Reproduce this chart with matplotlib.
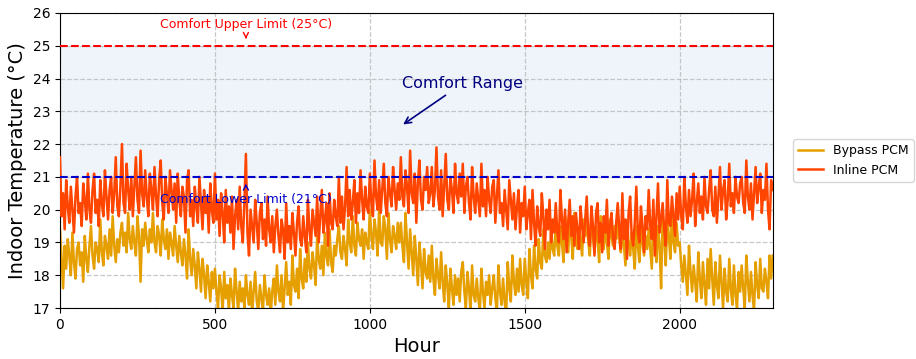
import numpy as np
import matplotlib
matplotlib.use("Agg")
import matplotlib.pyplot as plt

# Indoor temperature sampled every 5 hours (°C); one row = 100 hours
hours = np.arange(0, 2301, 5)

bypass_pcm = [
    19.4, 18.5, 17.6, 18.9, 18.2, 19.1, 18.6, 18.0, 19.3, 18.4, 17.9, 18.8, 19.0, 18.3, 18.7, 17.8, 19.2, 18.5, 18.1, 18.9,
    19.5, 18.6, 18.2, 19.0, 18.8, 18.4, 19.7, 18.7, 18.3, 19.2, 18.9, 18.5, 19.4, 18.6, 19.8, 18.9, 18.4, 19.1, 18.7, 19.3,
    19.6, 18.9, 19.3, 18.7, 19.9, 19.1, 18.8, 19.5, 19.0, 18.6, 19.8, 19.2, 17.8, 19.4, 18.9, 19.6, 19.1, 18.7, 19.4, 19.0,
    19.9, 19.0, 18.7, 19.5, 19.2, 18.6, 19.7, 19.1, 18.8, 19.4, 18.5, 19.3, 19.0, 18.6, 19.5, 18.9, 18.4, 19.2, 18.7, 18.3,
    19.1, 18.6, 17.9, 19.4, 18.5, 18.0, 18.8, 18.3, 17.6, 18.7, 18.2, 17.5, 18.5, 18.0, 17.3, 18.3, 17.8, 17.2, 18.1, 17.6,
    18.2, 17.5, 17.0, 18.0, 17.6, 16.9, 18.1, 17.3, 17.7, 16.9, 17.9, 17.4, 17.0, 18.2, 17.5, 16.9, 17.8, 17.2, 17.6, 17.0,
    18.0, 17.4, 17.1, 17.8, 16.8, 17.5, 18.1, 17.2, 16.9, 17.7, 17.3, 16.9, 18.0, 17.4, 17.1, 17.6, 16.8, 17.5, 17.9, 17.1,
    18.3, 17.5, 17.2, 18.0, 16.9, 17.6, 18.4, 17.4, 17.8, 17.1, 18.6, 17.7, 17.5, 18.2, 17.3, 18.8, 17.9, 17.6, 18.5, 17.8,
    19.0, 18.2, 17.9, 18.7, 18.3, 17.7, 19.2, 18.5, 18.2, 18.9, 18.0, 19.3, 18.6, 18.3, 19.4, 18.4, 18.1, 18.9, 18.6, 19.1,
    19.5, 18.7, 18.5, 19.2, 18.8, 18.3, 19.7, 19.0, 18.7, 19.8, 18.9, 18.6, 19.6, 19.1, 18.9, 19.4, 18.5, 19.3, 19.0, 18.8,
    20.0, 19.2, 18.8, 19.7, 19.3, 18.6, 20.1, 19.0, 18.9, 19.8, 19.4, 18.5, 19.9, 19.1, 18.7, 19.5, 19.2, 18.8, 19.6, 19.0,
    19.6, 18.9, 18.4, 19.9, 19.0, 18.2, 19.4, 18.7, 18.0, 19.2, 18.5, 17.7, 19.0, 18.4, 17.6, 18.8, 18.1, 17.9, 18.6, 17.8,
    18.9, 17.9, 17.4, 18.5, 18.0, 17.6, 18.7, 17.8, 17.2, 18.3, 17.7, 17.0, 18.2, 17.6, 17.1, 18.0, 17.4, 17.9, 17.2, 18.1,
    18.4, 17.5, 17.0, 18.1, 17.6, 16.9, 18.3, 17.4, 17.2, 17.9, 17.3, 16.9, 18.2, 17.5, 17.0, 17.8, 17.4, 18.0, 17.1, 17.6,
    18.0, 17.3, 16.9, 18.3, 17.5, 17.1, 17.9, 17.2, 16.8, 18.4, 17.6, 17.2, 18.6, 17.8, 17.4, 18.2, 17.5, 18.5, 17.7, 17.4,
    18.5, 17.8, 17.3, 18.8, 18.0, 17.6, 18.9, 18.2, 17.9, 19.1, 18.4, 18.2, 19.4, 18.6, 18.4, 19.0, 18.5, 19.3, 18.8, 18.6,
    19.6, 18.9, 18.6, 19.5, 19.0, 18.4, 19.8, 19.1, 18.7, 19.6, 19.2, 18.5, 19.9, 19.0, 18.8, 19.4, 19.1, 18.6, 19.7, 19.2,
    19.7, 19.0, 18.6, 19.9, 19.2, 18.7, 19.5, 19.1, 18.4, 19.8, 19.3, 18.8, 19.6, 19.0, 18.5, 19.7, 19.2, 18.9, 19.5, 19.1,
    19.8, 19.1, 18.7, 19.5, 18.9, 18.3, 19.6, 19.0, 18.6, 19.3, 18.8, 18.2, 19.5, 18.9, 18.4, 19.4, 19.0, 18.6, 19.2, 18.8,
    19.4, 18.8, 18.2, 19.7, 19.0, 18.4, 19.5, 18.9, 17.6, 19.8, 19.1, 18.3, 19.7, 19.2, 18.5, 19.9, 19.0, 18.7, 19.6, 18.9,
    19.0, 18.3, 17.8, 18.6, 18.0, 17.4, 18.9, 18.1, 17.5, 18.3, 17.8, 17.2, 18.7, 17.9, 17.3, 18.4, 17.7, 17.1, 18.5, 17.6,
    18.8, 17.9, 17.1, 18.4, 17.7, 17.3, 18.6, 17.8, 17.0, 18.2, 17.5, 17.2, 18.5, 17.6, 17.1, 18.3, 17.4, 17.0, 18.1, 17.5,
    18.3, 17.6, 17.0, 18.6, 17.8, 17.2, 18.1, 17.4, 16.9, 18.4, 17.7, 17.3, 18.5, 17.6, 17.5, 18.2, 17.8, 17.3, 18.6, 17.9,
    18.6,
]

inline_pcm = [
    21.6, 19.8, 20.5, 19.4, 20.9, 20.1, 19.6, 20.7, 20.0, 19.3, 20.4, 21.0, 19.9, 20.2, 19.5, 20.8, 20.3, 19.7, 21.1, 20.0,
    19.6, 20.6, 21.1, 19.9, 20.3, 19.5, 20.9, 20.2, 19.8, 21.2, 20.4, 19.7, 20.6, 21.0, 19.9, 20.5, 21.6, 20.1, 19.8, 20.7,
    22.0, 20.2, 19.9, 21.4, 20.6, 20.0, 21.0, 19.8, 20.7, 21.6, 20.3, 19.9, 21.8, 20.5, 20.1, 21.2, 20.4, 19.8, 21.1, 20.6,
    20.0, 21.3, 20.4, 19.8, 20.9, 21.5, 20.2, 19.7, 21.0, 20.5, 19.9, 21.2, 20.6, 20.0, 20.8, 19.6, 21.1, 20.3, 19.8, 20.7,
    20.4, 19.3, 20.9, 21.2, 19.8, 20.3, 19.5, 20.7, 20.1, 19.6, 21.0, 20.2, 19.4, 20.6, 19.9, 20.4, 19.3, 20.8, 20.0, 19.6,
    21.1, 19.7, 20.3, 19.2, 20.5, 19.9, 19.0, 20.6, 19.6, 20.1, 19.3, 20.4, 18.8, 19.8, 20.3, 19.4, 20.7, 19.5, 19.0, 20.2,
    21.7, 19.3, 18.6, 20.0, 19.5, 19.0, 20.3, 19.6, 18.8, 19.9, 20.2, 19.1, 19.7, 18.9, 20.4, 19.4, 19.0, 19.8, 18.7, 19.5,
    20.0, 19.2, 18.7, 19.7, 19.4, 18.5, 20.2, 19.0, 19.5, 18.8, 19.9, 19.3, 18.6, 19.6, 20.1, 19.1, 18.9, 19.8, 19.2, 18.7,
    20.3, 19.4, 18.9, 20.0, 19.6, 19.2, 20.4, 19.0, 19.8, 20.6, 19.3, 19.7, 20.2, 18.9, 20.5, 19.6, 19.4, 20.3, 19.8, 19.5,
    21.0, 19.6, 20.4, 19.4, 20.1, 21.3, 19.8, 20.6, 19.7, 20.2, 20.9, 19.6, 20.5, 19.9, 21.2, 20.3, 19.7, 20.7, 20.1, 19.9,
    21.1, 20.2, 19.8, 21.5, 20.4, 20.0, 20.9, 19.9, 20.6, 21.4, 20.2, 19.8, 21.0, 20.5, 20.1, 21.3, 20.6, 20.0, 20.8, 20.3,
    21.6, 20.4, 20.1, 21.2, 20.7, 19.9, 21.8, 20.5, 20.2, 21.1, 19.6, 20.8, 21.5, 20.3, 20.0, 21.0, 20.6, 21.3, 20.2, 20.5,
    21.3, 20.1, 20.6, 21.9, 20.4, 20.0, 21.2, 19.8, 20.7, 21.7, 20.3, 20.0, 21.0, 20.6, 19.9, 21.4, 20.5, 20.2, 21.1, 20.4,
    21.4, 19.9, 20.7, 21.0, 20.2, 19.7, 21.3, 20.4, 19.9, 20.8, 20.3, 19.8, 21.4, 20.1, 20.6, 19.8, 21.0, 20.3, 19.9, 20.7,
    20.9, 19.6, 20.4, 21.2, 19.9, 20.2, 19.5, 20.6, 20.0, 19.4, 20.9, 20.3, 19.7, 20.5, 19.4, 20.1, 20.6, 19.3, 20.2, 19.8,
    20.7, 19.4, 19.9, 20.3, 19.1, 20.6, 19.6, 18.9, 20.1, 19.5, 19.2, 20.5, 19.8, 18.8, 20.0, 19.4, 20.3, 19.0, 19.7, 19.3,
    20.2, 19.3, 19.0, 20.6, 19.7, 19.1, 20.0, 18.7, 19.6, 20.3, 19.2, 19.8, 18.9, 19.9, 19.4, 18.8, 20.1, 19.5, 19.0, 19.7,
    20.4, 19.2, 18.9, 20.1, 19.5, 18.6, 19.9, 20.2, 19.0, 19.6, 18.7, 19.8, 19.3, 20.3, 18.9, 19.5, 19.9, 19.1, 18.8, 19.6,
    20.2, 19.4, 18.8, 20.5, 19.1, 19.7, 18.5, 19.9, 20.4, 19.2, 18.9, 19.6, 20.7, 19.3, 19.0, 20.1, 19.5, 18.7, 19.8, 19.4,
    20.6, 19.5, 19.1, 20.3, 18.6, 19.8, 20.8, 19.3, 19.7, 20.2, 19.4, 18.9, 20.9, 19.6, 19.5, 20.4, 19.8, 19.2, 20.5, 19.7,
    20.7, 19.8, 19.4, 21.0, 20.1, 19.6, 20.6, 19.8, 20.3, 21.1, 19.5, 20.2, 20.8, 19.9, 20.4, 19.7, 21.0, 20.1, 19.9, 20.6,
    21.2, 20.0, 19.8, 20.7, 19.6, 20.4, 21.3, 20.0, 20.6, 20.9, 19.7, 20.3, 21.4, 20.1, 20.5, 19.9, 21.0, 20.4, 20.2, 20.8,
    21.0, 20.2, 19.9, 21.5, 20.4, 20.0, 20.8, 19.7, 20.5, 21.3, 20.2, 20.7, 21.1, 19.9, 20.6, 20.3, 21.4, 20.0, 19.4, 20.9,
    20.6,
]

comfort_upper = 25
comfort_lower = 21

fig = plt.figure(figsize=(9.16, 3.59), dpi=100)
ax = fig.add_axes([0.0655, 0.142, 0.778, 0.822])

ax.axhspan(comfort_lower, comfort_upper, color="#dce8f5", alpha=0.45, lw=0, zorder=0)

ax.plot(hours, bypass_pcm, color="#E69F00", lw=1.8, label="Bypass PCM", zorder=2)
ax.plot(hours, inline_pcm, color="#FF4500", lw=1.8, label="Inline PCM", zorder=3)

ax.axhline(comfort_upper, color="red", ls="--", lw=1.5, zorder=4)
ax.axhline(comfort_lower, color="#0000cc", ls="--", lw=1.5, zorder=4)

ax.annotate("Comfort Upper Limit (25°C)", xy=(600, 25.12), xytext=(600, 25.45),
            ha="center", va="bottom", color="red", fontsize=9,
            arrowprops=dict(arrowstyle="->", color="red", lw=1), zorder=5)
ax.annotate("Comfort Lower Limit (21°C)", xy=(600, 20.88), xytext=(600, 20.52),
            ha="center", va="top", color="#0000cc", fontsize=9,
            arrowprops=dict(arrowstyle="->", color="#0000cc", lw=1), zorder=5)
ax.annotate("Comfort Range", xy=(1100, 22.55), xytext=(1300, 23.85),
            ha="center", va="center", color="navy", fontsize=11.5,
            arrowprops=dict(arrowstyle="->", color="navy", lw=1.2), zorder=5)

ax.set_xlim(0, 2300)
ax.set_ylim(17, 26)
ax.set_xticks([0, 500, 1000, 1500, 2000])
ax.set_yticks(range(17, 27))
ax.tick_params(labelsize=10)
ax.grid(True, ls="--", color="#b0b0b0", alpha=0.7, lw=0.9)
ax.set_xlabel("Hour", fontsize=14)
ax.set_ylabel("Indoor Temperature (°C)", fontsize=14)

ax.legend(loc="center left", bbox_to_anchor=(1.02, 0.5), fontsize=9)

fig.savefig("out.png", dpi=100)
